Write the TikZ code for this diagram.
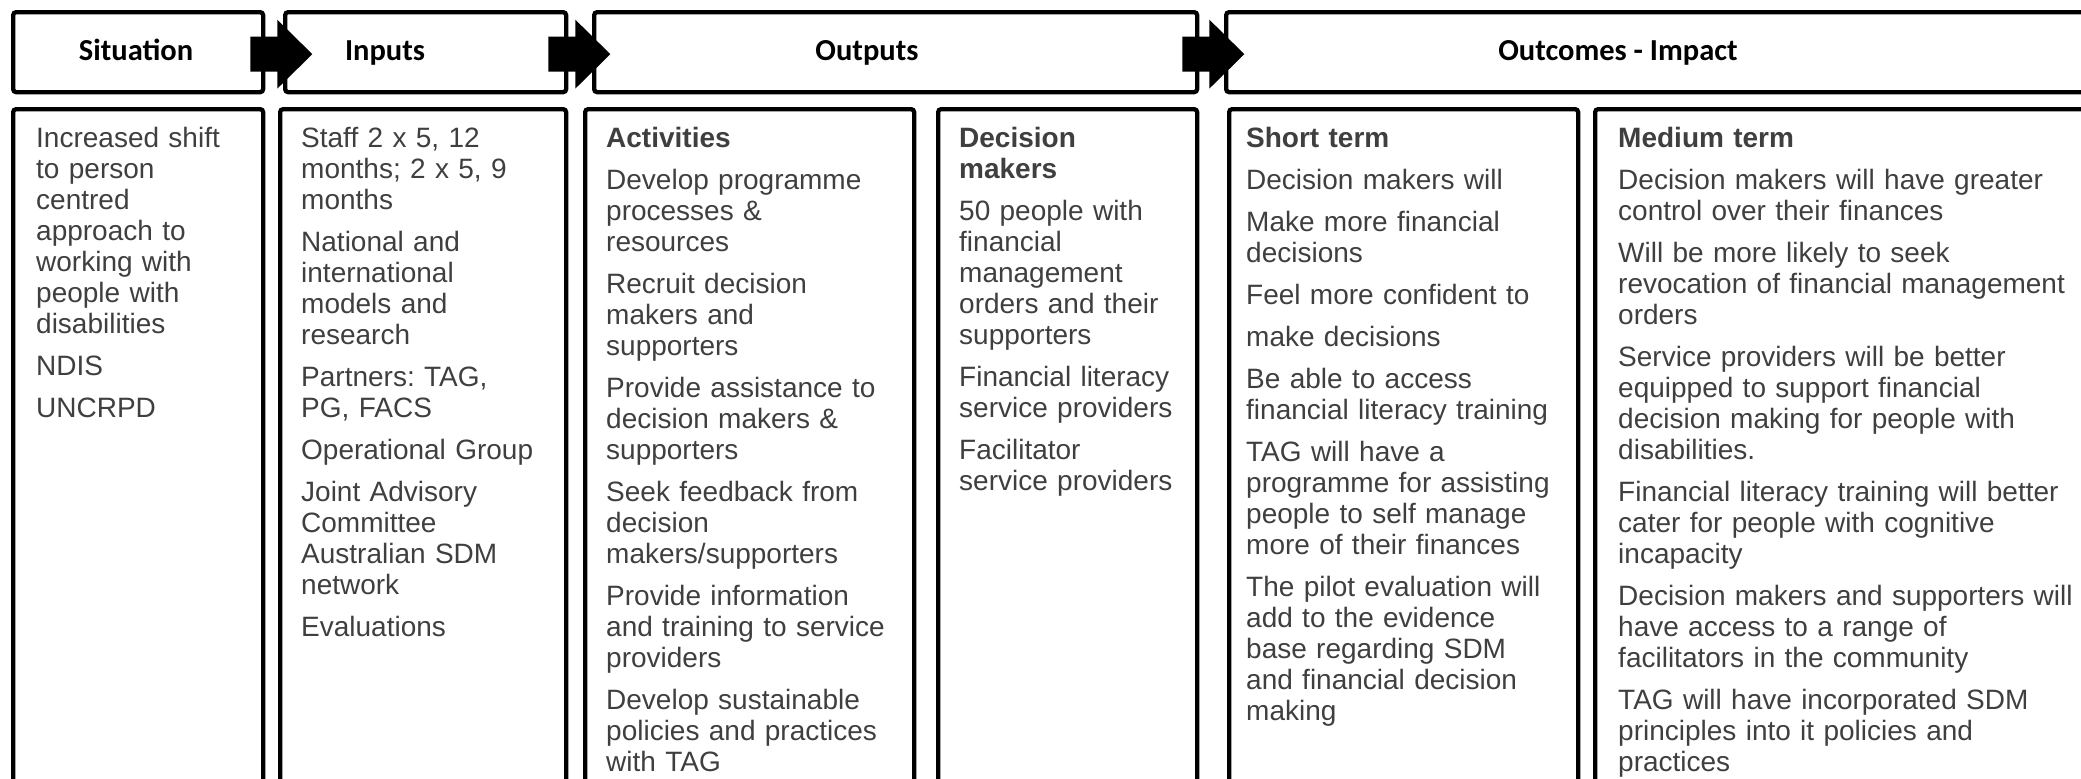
\documentclass[tikz,border=0pt]{standalone}
\usepackage{fontspec}
\setmainfont{Liberation Sans}
\newfontfamily\hdrfont{Carlito}
\usetikzlibrary{calc}
\definecolor{bodygray}{HTML}{3F3F3F}
\frenchspacing

\begin{document}
\begin{tikzpicture}[x=1pt,y=-1pt,
  frame/.style={draw=black, line width=4.3pt, rounded corners=3pt, inner sep=0pt, anchor=north west},
  hdrtext/.style={font=\hdrfont\bfseries\fontsize{30.5}{36}\selectfont, anchor=base, inner sep=0pt},
  bodytext/.style={font=\fontsize{28}{31}\selectfont, text=bodygray, anchor=base west,
                   inner sep=0pt, align=left, text width=480pt},
  blockarrow/.style={fill=black}
]
\path[use as bounding box, clip] (0,0) rectangle (2081,779);

% header row
\node[frame, minimum width=250pt, minimum height=80pt] (sit) at (11,10) {};
\node[frame, minimum width=281pt, minimum height=80pt] (inp) at (283,10) {};
\node[frame, minimum width=603pt, minimum height=80pt] (out) at (592,10) {};
\node[frame, minimum width=890pt, minimum height=80pt] (outc) at (1224,10) {};

\node[hdrtext] (sitT) at (136,60) {Situation};
\node[hdrtext] (inpT) at (385,60) {Inputs};
\node[hdrtext] (outT) at (867,60) {Outputs};
\node[hdrtext] (outcT) at (1618,60) {Outcomes - Impact};

% content row
\node[frame, minimum width=250pt, minimum height=760pt] (sitc) at (11,107) {};
\node[frame, minimum width=286pt, minimum height=760pt] (inpc) at (278,107) {};
\node[frame, minimum width=329pt, minimum height=760pt] (act) at (583,107) {};
\node[frame, minimum width=259pt, minimum height=760pt] (dm) at (936,107) {};
\node[frame, minimum width=349pt, minimum height=760pt] (st) at (1227,107) {};
\node[frame, minimum width=520pt, minimum height=760pt] (mt) at (1593,107) {};

% block arrows between the header boxes
\coordinate (a1) at ($(sit.east)+(-15,2)$);
\coordinate (a2) at ($(inp.east)+(-20,2)$);
\coordinate (a3) at ($(out.east)+(-17,2)$);
\foreach \a in {a1,a2,a3}{
  \fill[blockarrow] (\a) ++(0,-17.5) -- ++(27,0) -- ++(0,-17) -- ++(35,34.5)
    -- ++(-35,34.5) -- ++(0,-17) -- ++(-27,0) -- cycle;
}

% column texts
\node[bodytext] (sitX) at (36,147) {Increased shift\\ to person\\ centred\\ approach to\\ working with\\ people with\\ disabilities\\[11pt]
NDIS\\[11pt]
UNCRPD};

\node[bodytext] (inpX) at (301,147) {Staff 2 x 5, 12\\ months; 2 x 5, 9\\ months\\[11pt]
National and\\ international\\ models and\\ research\\[11pt]
Partners: TAG,\\ PG, FACS\\[11pt]
Operational Group\\[11pt]
Joint Advisory\\ Committee\\ Australian SDM\\ network\\[11pt]
Evaluations};

\node[bodytext] (actX) at (606,147) {\textbf{Activities}\\[11pt]
Develop programme\\ processes \&\\ resources\\[11pt]
Recruit decision\\ makers and\\ supporters\\[11pt]
Provide assistance to\\ decision makers \&\\ supporters\\[11pt]
Seek feedback from\\ decision\\ makers/supporters\\[11pt]
Provide information\\ and training to service\\ providers\\[11pt]
Develop sustainable\\ policies and practices\\ with TAG};

\node[bodytext] (dmX) at (959,147) {\textbf{Decision}\\ \textbf{makers}\\[11pt]
50 people with\\ financial\\ management\\ orders and their\\ supporters\\[11pt]
Financial literacy\\ service providers\\[11pt]
Facilitator\\ service providers};

\node[bodytext] (stX) at (1246,147) {\textbf{Short term}\\[11pt]
Decision makers will\\[11pt]
Make more financial\\ decisions\\[11pt]
Feel more confident to\\[11pt]
make decisions\\[11pt]
Be able to access\\ financial literacy training\\[11pt]
TAG will have a\\ programme for assisting\\ people to self manage\\ more of their finances\\[11pt]
The pilot evaluation will\\ add to the evidence\\ base regarding SDM\\ and financial decision\\ making};

\node[bodytext] (mtX) at (1618,147) {\textbf{Medium term}\\[11pt]
Decision makers will have greater\\ control over their finances\\[11pt]
Will be more likely to seek\\ revocation of financial management\\ orders\\[11pt]
Service providers will be better\\ equipped to support financial\\ decision making for people with\\ disabilities.\\[11pt]
Financial literacy training will better\\ cater for people with cognitive\\ incapacity\\[11pt]
Decision makers and supporters will\\ have access to a range of\\ facilitators in the community\\[11pt]
TAG will have incorporated SDM\\ principles into it policies and\\ practices};
\end{tikzpicture}
\end{document}
